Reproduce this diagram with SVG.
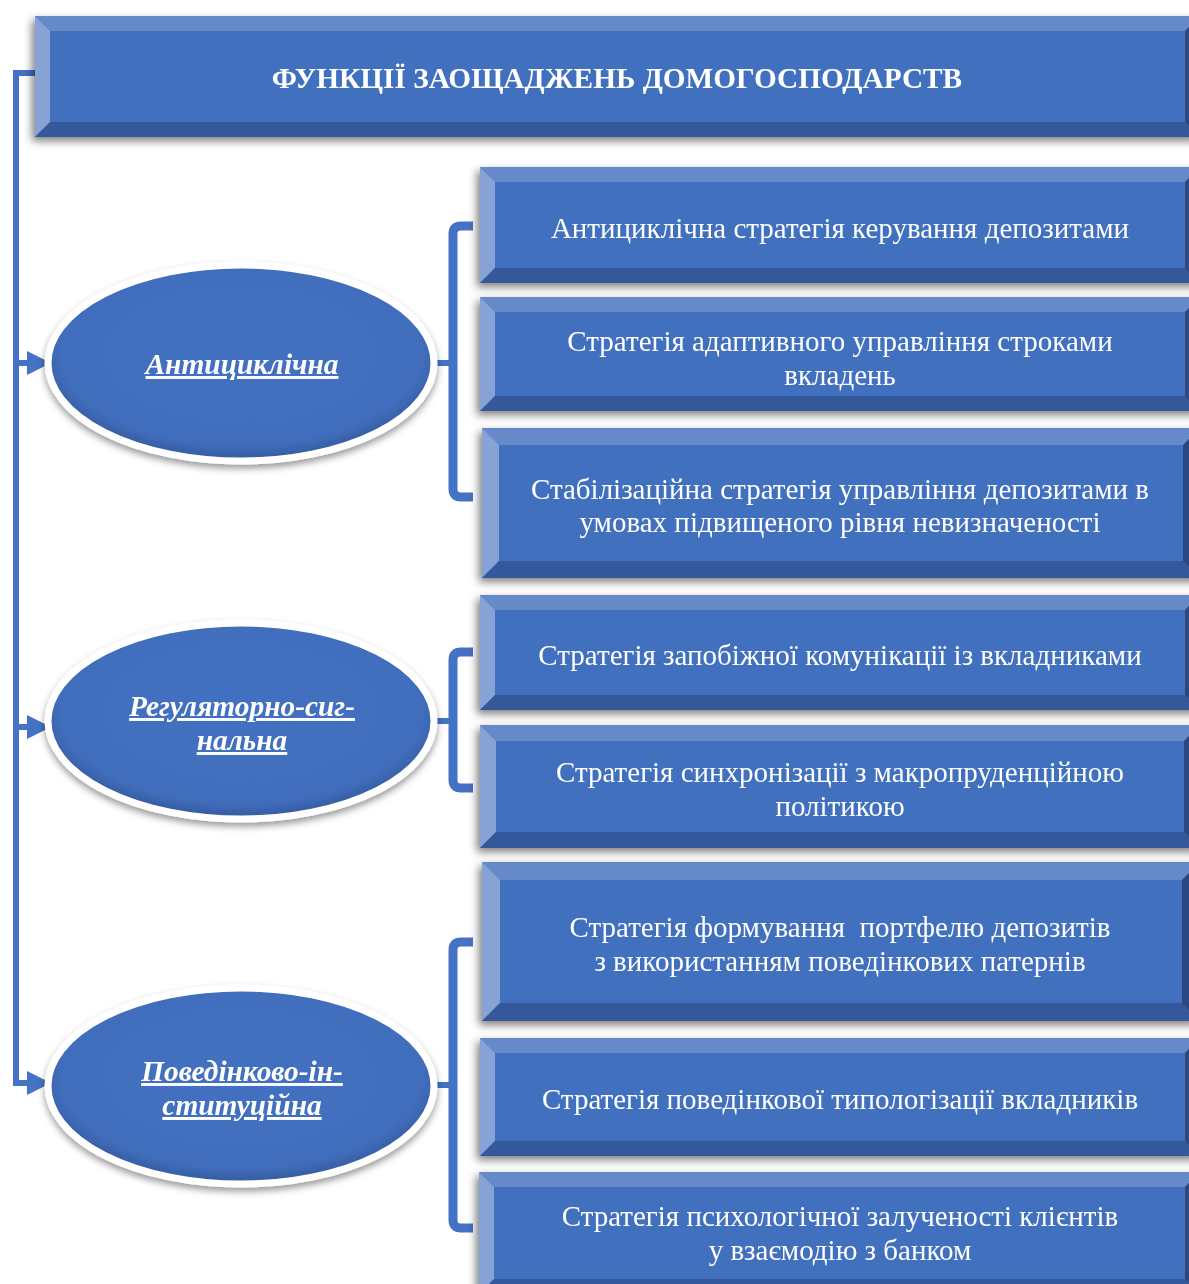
<svg xmlns="http://www.w3.org/2000/svg" width="1189" height="1284" viewBox="0 0 1189 1284">
<defs>
<filter id="sh" x="-10%" y="-20%" width="120%" height="150%">
<feDropShadow dx="-3" dy="4" stdDeviation="4" flood-color="#000" flood-opacity="0.5"/>
</filter>
<filter id="esh" x="-10%" y="-15%" width="120%" height="140%">
<feDropShadow dx="0" dy="4" stdDeviation="3.5" flood-color="#000" flood-opacity="0.4"/>
</filter>
<radialGradient id="eg" cx="50%" cy="45%" r="55%">
<stop offset="0" stop-color="#4371C1"/>
<stop offset="0.85" stop-color="#416EBD"/>
<stop offset="1" stop-color="#34599C"/>
</radialGradient>
</defs>
<style>
.t{fill:#6589C9}.l{fill:#87A3D6}.b{fill:#34599B}.r{fill:#2A4A82}.c{fill:#4170BE}
.tx{font-family:"Liberation Serif","Times New Roman",serif;font-size:29px;fill:#fff;text-anchor:middle}
.hd{font-family:"Liberation Serif","Times New Roman",serif;font-size:29.3px;font-weight:bold;fill:#fff;text-anchor:middle}
.et{font-family:"Liberation Serif","Times New Roman",serif;font-size:29.4px;font-weight:bold;font-style:italic;text-decoration:underline;fill:#fff;text-anchor:middle}
.cn{fill:none;stroke:#4472C4;stroke-width:6}
.br{fill:none;stroke:#4472C4;stroke-width:9;stroke-linejoin:round}
.ah{fill:#4472C4}
.el{fill:url(#eg);stroke:#fff;stroke-width:7}
</style>

<g id="connectors">
<path class="cn" d="M36,73 H16 V1083 H30"/>
<path class="cn" d="M16,363 H30"/>
<path class="cn" d="M16,727 H30"/>
<polygon class="ah" points="27,351 51,363 27,375"/>
<polygon class="ah" points="27,715 51,727 27,739"/>
<polygon class="ah" points="27,1071 51,1083 27,1095"/>
<path class="cn" d="M436,363 H454"/>
<path class="cn" d="M436,721 H454"/>
<path class="cn" d="M436,1085 H454"/>
<path class="br" d="M473,226 H461 Q453,226 453,234 V489 Q453,497 461,497 H473"/>
<path class="br" d="M473,652 H461 Q453,652 453,660 V780 Q453,788 461,788 H473"/>
<path class="br" d="M473,942 H461 Q453,942 453,950 V1220 Q453,1228 461,1228 H473"/>
</g>

<g id="header" filter="url(#sh)">
<rect class="c" x="35" y="16" width="1165" height="121"/>
<polygon class="t" points="35,16 1200,16 1185,31 50,31"/>
<polygon class="l" points="35,16 50,31 50,122 35,137"/>
<polygon class="b" points="35,137 50,122 1185,122 1200,137"/>
<polygon class="r" points="1200,16 1200,137 1185,122 1185,31"/>
<text class="hd" x="617" y="88">ФУНКЦІЇ ЗАОЩАДЖЕНЬ ДОМОГОСПОДАРСТВ</text>
</g>

<g id="ellipse1" filter="url(#esh)">
<ellipse class="el" cx="241" cy="363" rx="193" ry="98"/>
<text class="et" x="242" y="374">Антициклічна</text>
</g>
<g id="ellipse2" filter="url(#esh)">
<ellipse class="el" cx="241" cy="721" rx="193" ry="98"/>
<text class="et" x="242" y="716">Регуляторно-сиг-</text>
<text class="et" x="242" y="750">нальна</text>
</g>
<g id="ellipse3" filter="url(#esh)">
<ellipse class="el" cx="241" cy="1086" rx="193" ry="98"/>
<text class="et" x="242" y="1081">Поведінково-ін-</text>
<text class="et" x="242" y="1115">ституційна</text>
</g>

<g id="box1" filter="url(#sh)">
<rect class="c" x="480" y="167" width="720" height="116"/>
<polygon class="t" points="480,167 1200,167 1185,182 495,182"/>
<polygon class="l" points="480,167 495,182 495,268 480,283"/>
<polygon class="b" points="480,283 495,268 1185,268 1200,283"/>
<polygon class="r" points="1200,167 1200,283 1185,268 1185,182"/>
<text class="tx" x="840" y="238">Антициклічна стратегія керування депозитами</text>
</g>

<g id="box2" filter="url(#sh)">
<rect class="c" x="480" y="297" width="720" height="114"/>
<polygon class="t" points="480,297 1200,297 1185,312 495,312"/>
<polygon class="l" points="480,297 495,312 495,396 480,411"/>
<polygon class="b" points="480,411 495,396 1185,396 1200,411"/>
<polygon class="r" points="1200,297 1200,411 1185,396 1185,312"/>
<text class="tx" x="840" y="351">Стратегія адаптивного управління строками</text>
<text class="tx" x="840" y="385">вкладень</text>
</g>

<g id="box3" filter="url(#sh)">
<rect class="c" x="482" y="428" width="718" height="150"/>
<polygon class="t" points="482,428 1200,428 1183,445 499,445"/>
<polygon class="l" points="482,428 499,445 499,561 482,578"/>
<polygon class="b" points="482,578 499,561 1183,561 1200,578"/>
<polygon class="r" points="1200,428 1200,578 1183,561 1183,445"/>
<text class="tx" x="840" y="499">Стабілізаційна стратегія управління депозитами в</text>
<text class="tx" x="840" y="532">умовах підвищеного рівня невизначеності</text>
</g>

<g id="box4" filter="url(#sh)">
<rect class="c" x="480" y="595" width="720" height="115"/>
<polygon class="t" points="480,595 1200,595 1185,610 495,610"/>
<polygon class="l" points="480,595 495,610 495,695 480,710"/>
<polygon class="b" points="480,710 495,695 1185,695 1200,710"/>
<polygon class="r" points="1200,595 1200,710 1185,695 1185,610"/>
<text class="tx" x="840" y="665">Стратегія запобіжної комунікації із вкладниками</text>
</g>

<g id="box5" filter="url(#sh)">
<rect class="c" x="480" y="725" width="720" height="123"/>
<polygon class="t" points="480,725 1200,725 1184,741 496,741"/>
<polygon class="l" points="480,725 496,741 496,832 480,848"/>
<polygon class="b" points="480,848 496,832 1184,832 1200,848"/>
<polygon class="r" points="1200,725 1200,848 1184,832 1184,741"/>
<text class="tx" x="840" y="782">Стратегія синхронізації з макропруденційною</text>
<text class="tx" x="840" y="816">політикою</text>
</g>

<g id="box6" filter="url(#sh)">
<rect class="c" x="482" y="862" width="718" height="159"/>
<polygon class="t" points="482,862 1200,862 1182,880 500,880"/>
<polygon class="l" points="482,862 500,880 500,1003 482,1021"/>
<polygon class="b" points="482,1021 500,1003 1182,1003 1200,1021"/>
<polygon class="r" points="1200,862 1200,1021 1182,1003 1182,880"/>
<text class="tx" x="840" y="937" xml:space="preserve">Стратегія формування  портфелю депозитів</text>
<text class="tx" x="840" y="971">з використанням поведінкових патернів</text>
</g>

<g id="box7" filter="url(#sh)">
<rect class="c" x="480" y="1038" width="720" height="118"/>
<polygon class="t" points="480,1038 1200,1038 1185,1053 495,1053"/>
<polygon class="l" points="480,1038 495,1053 495,1141 480,1156"/>
<polygon class="b" points="480,1156 495,1141 1185,1141 1200,1156"/>
<polygon class="r" points="1200,1038 1200,1156 1185,1141 1185,1053"/>
<text class="tx" x="840" y="1109">Стратегія поведінкової типологізації вкладників</text>
</g>

<g id="box8" filter="url(#sh)">
<rect class="c" x="479" y="1172" width="721" height="122"/>
<polygon class="t" points="479,1172 1200,1172 1185,1187 494,1187"/>
<polygon class="l" points="479,1172 494,1187 494,1279 479,1294"/>
<polygon class="b" points="479,1294 494,1279 1185,1279 1200,1294"/>
<polygon class="r" points="1200,1172 1200,1294 1185,1279 1185,1187"/>
<text class="tx" x="840" y="1226">Стратегія психологічної залученості клієнтів</text>
<text class="tx" x="840" y="1260">у взаємодію з банком</text>
</g>
</svg>
